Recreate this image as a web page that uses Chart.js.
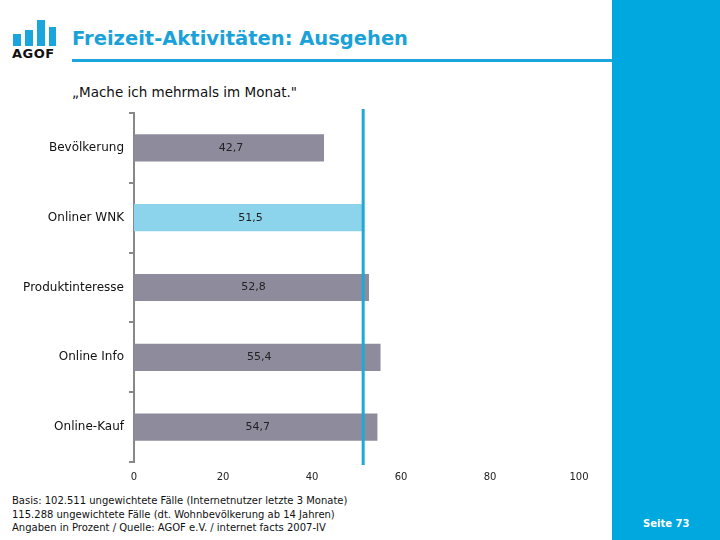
<!DOCTYPE html>
<html>
<head>
<meta charset="utf-8">
<script src="https://cdn.jsdelivr.net/npm/chart.js@4"></script>
<style>
  body { margin: 0; width: 720px; height: 540px; position: relative; background: #fff; font-family: "DejaVu Sans", Verdana, sans-serif; overflow: hidden; }
  .panel { position: absolute; left: 612px; top: 0; width: 108px; height: 540px; background: #00a8e0; }
  .seite { position: absolute; left: 643px; top: 518px; color: #fff; font-size: 10px; font-weight: bold; }
  .logo span { position: absolute; background: #1aa6dc; width: 8px; }
  .agof { position: absolute; left: 12px; top: 46px; font-size: 13px; font-weight: bold; color: #111; letter-spacing: 0.5px; }
  .title { position: absolute; left: 72px; top: 27px; font-size: 19.5px; font-weight: bold; color: #1aa2d8; }
  .rule { position: absolute; left: 72px; top: 59px; width: 540px; height: 3px; background: #1aa6dc; }
  .sub { position: absolute; left: 72px; top: 84px; font-size: 13.5px; color: #111; }
  .foot { position: absolute; left: 12px; top: 494px; font-size: 10px; line-height: 13.5px; color: #111; }
  canvas { position: absolute; left: 0; top: 0; }
</style>
</head>
<body>
<div class="panel"></div>
<div class="seite">Seite 73</div>
<div class="logo">
  <span style="left:13px;top:34px;height:12px"></span>
  <span style="left:25px;top:30px;height:16px"></span>
  <span style="left:37px;top:20px;height:26px"></span>
  <span style="left:49px;top:27px;height:19px;width:7px"></span>
</div>
<div class="agof">AGOF</div>
<div class="title">Freizeit-Aktivitäten: Ausgehen</div>
<div class="rule"></div>
<div class="sub">„Mache ich mehrmals im Monat."</div>
<div class="foot">Basis: 102.511 ungewichtete Fälle (Internetnutzer letzte 3 Monate)<br>115.288 ungewichtete Fälle (dt. Wohnbevölkerung ab 14 Jahren)<br>Angaben in Prozent / Quelle: AGOF e.V. / internet facts 2007-IV</div>
<div style="position:absolute;left:0;top:0;width:612px;height:500px"><canvas id="chart"></canvas></div>
<script>
// Daten
const categories = ["Bevölkerung", "Onliner WNK", "Produktinteresse", "Online Info", "Online-Kauf"];
const values = [42.7, 51.5, 52.8, 55.4, 54.7];
const barColors = ["#8e8c9c", "#8cd4ec", "#8e8c9c", "#8e8c9c", "#8e8c9c"];
const referenceValue = 51.5;
const xTicks = [0, 20, 40, 60, 80, 100];

// Referenzlinie und Werte in den Balken
const extras = {
  id: "extras",
  afterDatasetsDraw(chart) {
    const ctx = chart.ctx;
    const meta = chart.getDatasetMeta(0);
    ctx.save();
    ctx.font = "11px 'DejaVu Sans'";
    ctx.fillStyle = "#222";
    ctx.textAlign = "center";
    ctx.textBaseline = "middle";
    meta.data.forEach((bar, i) => {
      const x0 = chart.scales.x.getPixelForValue(0);
      ctx.fillText(values[i].toFixed(1).replace(".", ","), (x0 + bar.x) / 2 + 2, bar.y);
    });
    const rx = chart.scales.x.getPixelForValue(referenceValue);
    ctx.strokeStyle = "#1fa8d8";
    ctx.lineWidth = 3;
    ctx.beginPath();
    ctx.moveTo(rx, chart.chartArea.top - 4);
    ctx.lineTo(rx, chart.chartArea.bottom + 3);
    ctx.stroke();
    ctx.restore();
  }
};

new Chart(document.getElementById("chart"), {
  type: "bar",
  data: {
    labels: categories,
    datasets: [{
      data: values,
      backgroundColor: barColors,
      barPercentage: 0.39,
      categoryPercentage: 1.0
    }]
  },
  options: {
    indexAxis: "y",
    responsive: true,
    maintainAspectRatio: false,
    animation: false,
    layout: { padding: { top: 113, right: 33, bottom: 0, left: 0 } },
    plugins: { legend: { display: false }, tooltip: { enabled: false } },
    scales: {
      x: {
        min: 0,
        max: 100,
        afterBuildTicks: (scale) => { scale.ticks = xTicks.map(v => ({ value: v })); },
        afterFit: (scale) => { scale.height = 38; },
        grid: { display: false },
        border: { display: false },
        ticks: { color: "#222", font: { family: "DejaVu Sans", size: 10 }, padding: 1 }
      },
      y: {
        afterFit: (scale) => { scale.width = 134; },
        grid: { offset: true, drawOnChartArea: false, drawTicks: true, tickLength: 5, color: "#888", lineWidth: 2 },
        border: { display: true, color: "#888", width: 2 },
        ticks: { color: "#111", font: { family: "DejaVu Sans", size: 12 }, padding: 5 }
      }
    }
  },
  plugins: [extras]
});
</script>
</body>
</html>
